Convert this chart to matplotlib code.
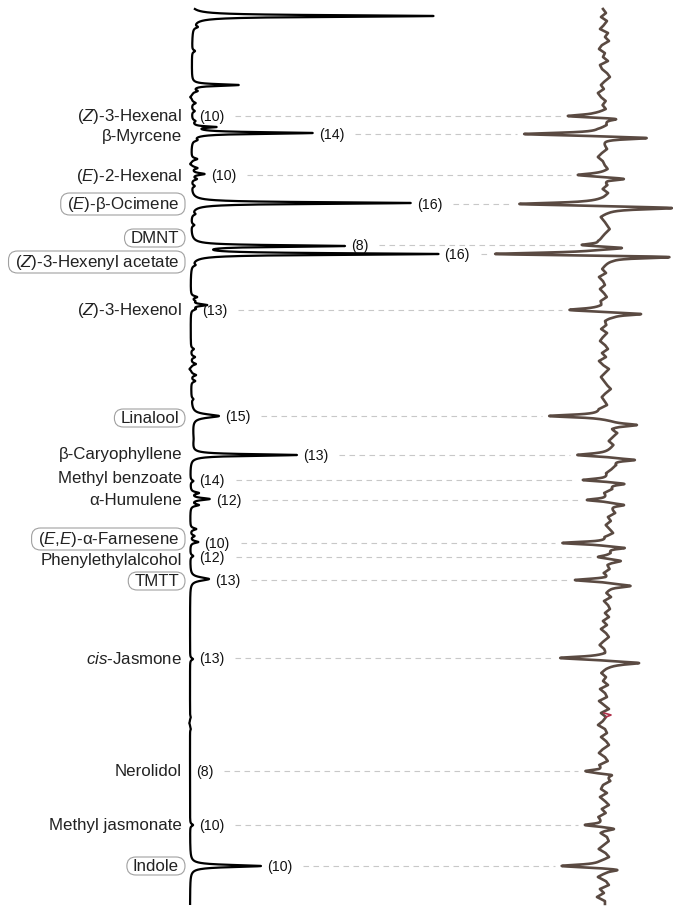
import numpy as np
import matplotlib.pyplot as plt
from matplotlib.patches import FancyBboxPatch

plt.rcParams['font.family'] = ['Liberation Sans', 'DejaVu Sans']
plt.rcParams['mathtext.fontset'] = 'custom'
plt.rcParams['mathtext.rm'] = 'Liberation Sans'
plt.rcParams['mathtext.it'] = 'Liberation Sans:italic'

# compounds (retention in chart scan units, run starts at the top)
names = [r'($\mathit{Z}$)-3-Hexenal', 'β-Myrcene', r'($\mathit{E}$)-2-Hexenal',
         r'($\mathit{E}$)-β-Ocimene', 'DMNT', r'($\mathit{Z}$)-3-Hexenyl acetate',
         r'($\mathit{Z}$)-3-Hexenol', 'Linalool', 'β-Caryophyllene', 'Methyl benzoate',
         'α-Humulene', r'($\mathit{E}$,$\mathit{E}$)-α-Farnesene', 'Phenylethylalcohol',
         'TMTT', r'$\mathit{cis}$-Jasmone', 'Nerolidol', 'Methyl jasmonate', 'Indole']
retention = [117, 135, 176, 205, 246, 255, 311, 417, 456, 481, 501, 544, 558, 581, 659, 772, 826, 867]
name_shift = [0, 2, 1, 0, -7, 8, 0, 2, -1, -2, 0, -4, 3, 1, 0, 0, 0, 0]
n_responding = [10, 14, 10, 16, 8, 16, 13, 15, 13, 14, 12, 10, 12, 13, 13, 8, 10, 10]
highlighted = [False, False, False, True, True, True, False, True, False, False,
               False, True, False, True, False, False, False, True]

# GC-FID trace: main peaks
gc_peak_rt = [17, 86, 128, 134, 204, 247, 255, 306, 417, 456, 500, 580, 867]
gc_peak_height = [242, 47, 22, 121, 220, 151, 246, 16, 27, 106, 19, 19, 71]
gc_peak_width = [1.0, 1.0, 0.8, 1.0, 1.0, 1.0, 1.0, 1.2, 2.0, 1.0, 1.3, 2.0, 1.3]
# GC-FID trace: small baseline features
gc_minor_rt = [28, 52, 92, 98, 104, 112, 122, 141, 160, 165, 169, 175, 180, 187, 215, 226,
               266, 298, 302, 310, 350, 358, 365, 370, 376, 382, 400, 482, 494, 506, 530,
               537, 543, 557, 660, 718, 724, 730, 826]
gc_minor_height = [4, 3, 5, -2, 4, 3, 3, 4, 6, -2, 6, 13, 5, 3, 3, 3,
                   3, 6, 3, 4, 3, 4, 5, -2, 5, 4, 2, 3, 8, 8, 6,
                   4, 8, 3, 3, 0.8, -0.8, 0.8, 3]
gc_drift_rt = [10, 20, 250, 400, 440, 462, 905]
gc_drift_x = [190, 192, 190, 191, 193, 190, 190]

# EAG (antenna) trace, baseline read every 4 scan units from the top
ead_base = 603
ead_noise = [0, 3, -2, 4, 1, -3, 5, 2, 6, -1, -4, 2, 0, 5,
             -3, -1, 4, 7, 2, -2, 1, -5, -2, 3, 0, 4, -3, -4,
             2, 5, 0, 3, -4, -2, 1, 4, -1, -5, 0, 2, 6, 1,
             3, -1, 4, 0, 6, 3, -2, 0, 5, 2, -3, 1, 4, 7,
             3, 0, -2, 4, 1, -3, 0, 5, 2, -1, 3, -4, 0, 2,
             -3, 1, 4, -2, 0, -5, 2, 6, 1, 3, -2, 4, 0, -3,
             2, 5, -1, 3, -4, 0, 6, 2, -2, 1, 4, 8, 3, -1,
             2, 5, -2, 0, 3, 9, 12, 7, 14, 10, 6, 11, 8, 5,
             10, 6, 12, 9, 4, 7, 11, 5, 9, 2, 6, 10, 4, 8,
             12, 5, 8, 3, 7, 11, 4, 9, 6, 2, 8, 5, 10, 4,
             7, 2, 9, 5, 12, 6, 3, 8, 1, 5, 7, 2, 6, 0,
             4, -2, 3, 6, 1, -3, 2, 5, -1, 4, 8, 2, -2, 3,
             0, 5, -3, 2, 4, -4, 1, 6, -2, 3, 0, -5, 2, 4,
             -2, 3, 6, 0, -4, 2, 5, -3, 1, -6, 3, 7, 0, -2,
             4, -3, 2, 6, -1, 3, -4, 0, 5, 2, -3, 4, 6, 1,
             -4, 3, 7, 0, -2, 5, 2, -5, 3, 6, -3, 1, -6, 2]
ead_dip = [-31, -80, -27, -83, -23, -106, -30, -56, -33, -30, -25, -48, -10, -34, -43, -15, -23, -41]
ead_overshoot = [14, 47, 20, 65, 22, 65, 35, 22, 25, 15, 17, 19, 8, 17, 30, 10, 9, 10]
ead_lag = [3, 4, 4, 4, 3, 3, 4, 9, 5, 4, 5, 5, 4, 6, 5, 4, 4, 4]
artifact_rt = [714, 716, 718]
artifact_x = [604, 611, 606]


def lorentz(t, t0, h, w):
    return h / (1.0 + ((t - t0) / w) ** 2)


t = np.arange(10, 905, 0.1)

gc = np.interp(t, gc_drift_rt, gc_drift_x)
for r, h, w in zip(gc_peak_rt, gc_peak_height, gc_peak_width):
    gc += lorentz(t, r, h, w)
for r, h in zip(gc_minor_rt, gc_minor_height):
    gc += lorentz(t, r, h, 1.2)

noise_t = 10 + 4 * np.arange(len(ead_noise))
ead = ead_base + np.interp(t, noise_t, ead_noise)
w_ead = 1.5
for r, d, o, lag in zip(retention, ead_dip, ead_overshoot, ead_lag):
    k = 1.0 / (1.0 + (lag / w_ead) ** 2)
    a_dip, a_over = np.linalg.solve([[1, k], [k, 1]], [d, o])
    ead += lorentz(t, r, a_dip, w_ead) + lorentz(t, r + lag, a_over, w_ead)

fig = plt.figure(figsize=(6.73, 9.12), dpi=100)
ax = fig.add_axes([0, 0, 1, 1])
ax.set_xlim(0, 673)
ax.set_ylim(912, 0)
ax.axis('off')

ax.plot(gc, t, color='black', lw=1.6, solid_joinstyle='round', zorder=3)
ax.plot(ead, t, color='#5a4a42', lw=1.9, solid_joinstyle='round', zorder=3)
ax.plot(artifact_x, artifact_rt, color='#b0304a', lw=1.2, zorder=4)

name_texts = []
count_texts = []
for name, r, s, hl, n in zip(names, retention, name_shift, highlighted, n_responding):
    tx = ax.text(179 if hl else 182, r + s, name, ha='right', va='center',
                 fontsize=12.2, color='#222222')
    name_texts.append(tx)
    near = np.abs(t - r) <= 2.5
    cx = gc[near].max() + 6
    ct = ax.text(cx, r, f'({n})', ha='left', va='center', fontsize=10.2, color='#111111')
    count_texts.append(ct)

fig.canvas.draw()
renderer = fig.canvas.get_renderer()
inv = ax.transData.inverted()

for tx, hl in zip(name_texts, highlighted):
    if not hl:
        continue
    bb = tx.get_window_extent(renderer)
    (x0, y1), (x1, y0) = inv.transform([[bb.x0, bb.y0], [bb.x1, bb.y1]])
    padx, pady = 6, 1.5
    box = FancyBboxPatch((x0 - padx, y0 - pady), (x1 - x0) + 2 * padx, (y1 - y0) + 2 * pady,
                         boxstyle='round,pad=0,rounding_size=9', fc='none',
                         ec='#a0a0a0', lw=0.8, zorder=2)
    ax.add_patch(box)

for ct, r in zip(count_texts, retention):
    bb = ct.get_window_extent(renderer)
    x_start = inv.transform([[bb.x1, bb.y0]])[0][0] + 11
    near = np.abs(t - r) <= 3
    x_end = ead[near].min() - 7
    ax.plot([x_start, x_end], [r, r], color='#c8c8c8', lw=0.8,
            linestyle=(0, (5, 4)), zorder=1)

fig.savefig('out.png', dpi=100)
